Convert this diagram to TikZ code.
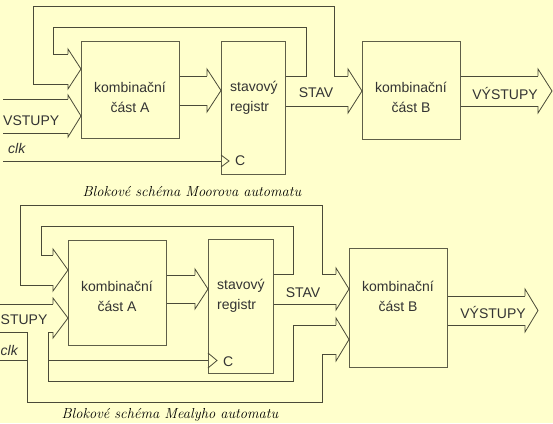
\documentclass[tikz,border=0pt]{standalone}
\usepackage{fontspec}
\setsansfont{Liberation Sans}
\usetikzlibrary{calc}
\definecolor{cbg}{HTML}{FFFFCC}
\definecolor{cwire}{HTML}{4A4A38}
\definecolor{cbox}{HTML}{5E5E48}
\definecolor{ctext}{HTML}{333333}
% fat arrow head: tip, half height, overhang, length
\newcommand{\fathead}[4]{%
  \draw[wire] ($(#1)+(-#4,-#2)$) -- ++(0,-#3) -- (#1)
    -- ($(#1)+(-#4,#2+#3)$) -- ++(0,-#3);}
\begin{document}
\begin{tikzpicture}[
  x=1pt, y=-1pt,
  font=\sffamily\fontsize{14}{20}\selectfont,
  block/.style={draw=cbox, line width=0.9pt, inner sep=0pt, anchor=north west},
  wire/.style={draw=cwire, line width=0.8pt},
  lbl/.style={text=ctext, align=center, inner sep=0pt},
  reglbl/.style={text=ctext, align=left, inner sep=0pt, anchor=west},
  caption/.style={font=\rmfamily\itshape\fontsize{14.5}{16}\selectfont, inner sep=0pt},
]
\fill[cbg] (0,0) rectangle (553,423);
\useasboundingbox (0,0) rectangle (553,423);
\clip (0,0) rectangle (553,423);

% ---- Moore ----
\node[block, minimum width=98pt, minimum height=97pt]  (mA) at (81,41) {};
\node[block, minimum width=64pt, minimum height=133pt] (mR) at (221,41) {};
\node[block, minimum width=98pt, minimum height=98pt]  (mB) at (362,41) {};
\node[lbl] (mAtxt) at (130,97) {kombinační\\část A};
\node[reglbl] (mRtxt) at (230,98) {stavový\\registr};
\node[lbl] (mBtxt) at (411,97) {kombinační\\část B};
\node[reglbl] (mC) at (235,161) {C};
\node[lbl] (mstav) at (316,93) {STAV};
\node[lbl] (mvyst) at (505,93) {VÝSTUPY};
\node[reglbl] (mvst) at (3,121) {VSTUPY};
\node[reglbl] (mclk) at (8,148) {\itshape clk};
\node[caption] (mcap) at (192,192) {Blokové schéma Moorova automatu};

\coordinate (mAin1) at (81,69);
\coordinate (mAin2) at (81,116);
\coordinate (mRin)  at (221,90.5);
\coordinate (mBin)  at (362,91);
\coordinate (mout)  at (552,91);

% feedback loops
\draw[wire] (mR.east |- 0,76) -- (306,76) -- (306,27) -- (53,27) -- (53,54) -- (68,54);
\draw[wire] (348,76) -- (334,76) -- (334,6) -- (33,6) -- (33,84) -- (68,84);
\fathead{mAin1}{15}{5}{13}
% inputs
\draw[wire] (3,99) -- (68,99);
\draw[wire] (3,133) -- (68,133);
\fathead{mAin2}{17}{4}{13}
% A -> register
\draw[wire] (mA.east |- 0,76) -- (207,76);
\draw[wire] (mA.east |- 0,105) -- (207,105);
\fathead{mRin}{14.5}{7}{14}
% state
\draw[wire] (mR.east |- 0,106) -- (348,106);
\fathead{mBin}{15}{7}{14}
% outputs
\draw[wire] (mB.east |- 0,76) -- (538,76);
\draw[wire] (mB.east |- 0,106) -- (538,106);
\fathead{mout}{15}{7}{14}
% clock
\draw[wire] (3,161) -- (mR.west |- 0,161);
\draw[wire] (221,155) -- (229,161) -- (221,167);

% ---- Mealy ----
\node[block, minimum width=98pt, minimum height=105pt] (eA) at (68,240) {};
\node[block, minimum width=65pt, minimum height=134pt] (eR) at (208,239) {};
\node[block, minimum width=98pt, minimum height=119pt] (eB) at (349,248) {};
\node[lbl] (eAtxt) at (117,296) {kombinační\\část A};
\node[reglbl] (eRtxt) at (217,296) {stavový\\registr};
\node[lbl] (eBtxt) at (398,296) {kombinační\\část B};
\node[reglbl] (eC) at (223,362) {C};
\node[lbl] (estav) at (303,293) {STAV};
\node[lbl] (evyst) at (493,312) {VÝSTUPY};
\node[reglbl] (evst) at (0.5,320) {STUPY};
\node[reglbl] (eclk) at (0.5,350) {\itshape clk};
\node[caption] (ecap) at (170,415) {Blokové schéma Mealyho automatu};

\coordinate (eAin1) at (68,270);
\coordinate (eAin2) at (68,318);
\coordinate (eRin)  at (208,289);
\coordinate (eBin1) at (349,289);
\coordinate (eBin2) at (349,339.5);
\coordinate (eout)  at (538,310.5);

% feedback loops
\draw[wire] (eR.east |- 0,274) -- (293,274) -- (293,226) -- (41,226) -- (41,255) -- (53,255);
\draw[wire] (336,274) -- (322,274) -- (322,205) -- (20,205) -- (20,285) -- (53,285);
\fathead{eAin1}{15}{6}{15}
% inputs
\draw[wire] (0,304) -- (53,304);
\fathead{eAin2}{14}{6}{15}
\draw[wire] (53,332) -- (48,332) -- (48,381) -- (293,381) -- (293,325) -- (336,325);
\draw[wire] (0,332) -- (27,332) -- (27,402) -- (322,402) -- (322,354) -- (336,354);
\fathead{eBin2}{14.5}{7}{13}
% A -> register
\draw[wire] (eA.east |- 0,275) -- (195,275);
\draw[wire] (eA.east |- 0,303) -- (195,303);
\fathead{eRin}{14}{6}{13}
% state
\draw[wire] (eR.east |- 0,304) -- (336,304);
\fathead{eBin1}{15}{6}{13}
% outputs
\draw[wire] (eB.east |- 0,296) -- (525,296);
\draw[wire] (eB.east |- 0,325) -- (525,325);
\fathead{eout}{14.5}{7}{13}
% clock
\draw[wire] (0,360) -- (27,360);
\draw[wire] (48,360) -- (eR.west |- 0,360);
\draw[wire] (208,353) -- (217,360.5) -- (208,368);
\end{tikzpicture}
\end{document}
